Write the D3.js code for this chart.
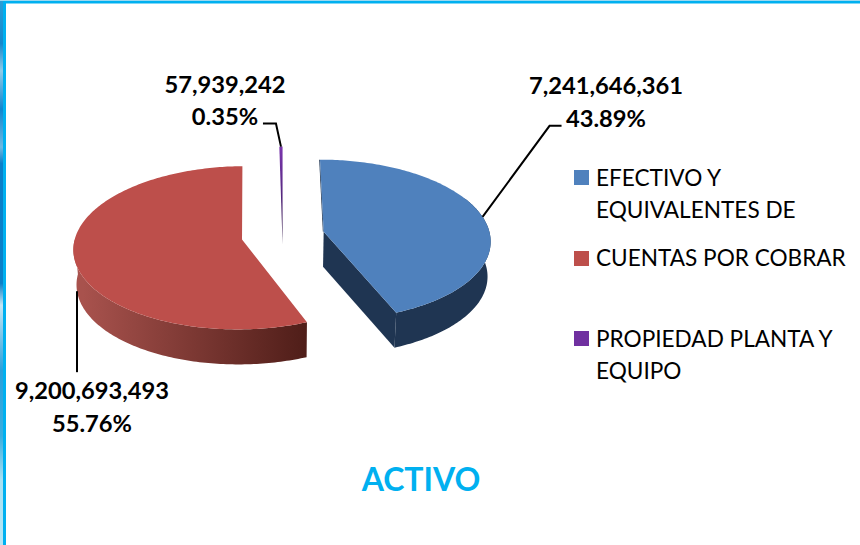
<!DOCTYPE html>
<html>
<head>
<meta charset="utf-8">
<script src="https://cdn.jsdelivr.net/npm/d3@7/dist/d3.min.js"></script>
<style>
html,body{margin:0;padding:0;background:#fff;overflow:hidden}
svg{display:block}
text{font-family:Lato,"Open Sans",sans-serif}
</style>
</head>
<body>
<div id="chart"></div>
<script>
const categories = ["EFECTIVO Y EQUIVALENTES DE", "CUENTAS POR COBRAR", "PROPIEDAD PLANTA Y EQUIPO"];
const values = [7241646361, 9200693493, 57939242];
const valueLabels = ["7,241,646,361", "9,200,693,493", "57,939,242"];
const percentLabels = ["43.89%", "55.76%", "0.35%"];
const legendLines = [["EFECTIVO Y", "EQUIVALENTES DE"], ["CUENTAS POR COBRAR"], ["PROPIEDAD PLANTA Y", "EQUIPO"]];
const topColors = ["#4f81bd", "#bd4f4b", "#7030a0"];
const chartTitle = "ACTIVO";

const W = 860, H = 545;
const svg = d3.select("#chart").append("svg").attr("width", W).attr("height", H);
const defs = svg.append("defs");

// frame
const strip = defs.append("linearGradient").attr("id", "strip").attr("x1", 0).attr("x2", 0).attr("y1", 0).attr("y2", 1);
[[0, "#2a9fd8"], [.08, "#1488cc"], [.13, "#8fcbe8"], [.2, "#0f86cf"], [.27, "#6db9e2"], [.3, "#0a7fc9"],
 [.52, "#0a80c8"], [.56, "#c5e6f4"], [.68, "#29a0db"], [.8, "#3aaedf"], [.88, "#a8e0f2"], [1, "#b5e6f5"]]
  .forEach(s => strip.append("stop").attr("offset", s[0]).attr("stop-color", s[1]));
svg.append("rect").attr("x", 0).attr("y", 0).attr("width", 3).attr("height", H).attr("fill", "url(#strip)");
svg.append("rect").attr("x", 0).attr("y", 0).attr("width", W).attr("height", 1).attr("fill", "#9ad8f0");
svg.append("rect").attr("x", 3).attr("y", 1).attr("width", W - 3).attr("height", 2.5).attr("fill", "#00b0f0");
svg.append("rect").attr("x", 3).attr("y", 1).attr("width", 3).attr("height", H).attr("fill", "#00b0f0");

// pie in perspective
const cx = 283, cy = 235.5, rx = 166.5, ry = 80, persp = 0.1, depth = 35, shrink = 0.015, explode = 0.25;
const sx = d3.scaleLinear().domain([-1, 1]).range([cx - rx, cx + rx]);
const sy = d3.scaleLinear().domain([-1, 1]).range([cy - ry, cy + ry]);
function project(X, Y, z) {
  const p = 1 - persp * Y, s = 1 - shrink * z;
  return [cx + (sx(X / p) - cx) * s, sy(Y / p) + depth * z];
}
const arcs = d3.pie().sort(null).value(d => d)(values);
const line = d3.line();
// visible part of each outer wall, as a share of the slice's sweep
const wallFrom = [0.4, 0, 1], wallTo = [1, 0.56, 1];
const pieces = arcs.map((a, i) => {
  const mid = (a.startAngle + a.endAngle) / 2;
  const ox = explode * Math.sin(mid), oy = -explode * Math.cos(mid);
  const rim = (t, r, z) => project(ox + r * Math.sin(t), oy - r * Math.cos(t), z);
  const n = Math.max(2, Math.ceil((a.endAngle - a.startAngle) * 60));
  const ts = d3.range(n + 1).map(k => a.startAngle + (a.endAngle - a.startAngle) * k / n);
  return {a, i, mid, ts, rim,
    wall: ts.filter((t, k) => k / n >= wallFrom[i] && k / n <= wallTo[i]),
    apex: z => rim(0, 0, z),
    top: [rim(0, 0, i === 2 ? 0.8 : 0), ...ts.map(t => rim(t, 1, 0))]};
});

const redWall = defs.append("linearGradient").attr("id", "wall1").attr("gradientUnits", "userSpaceOnUse")
  .attr("x1", sx(-1.2)).attr("x2", project(0.14, 1, 0)[0]).attr("y1", 0).attr("y2", 0);
redWall.append("stop").attr("offset", 0).attr("stop-color", "#a8524d");
redWall.append("stop").attr("offset", 1).attr("stop-color", "#4e1d18");
const purpleTop = defs.append("linearGradient").attr("id", "top2").attr("x1", 0).attr("x2", 0).attr("y1", 0).attr("y2", 1);
purpleTop.append("stop").attr("offset", 0).attr("stop-color", "#7a35ad");
purpleTop.append("stop").attr("offset", .45).attr("stop-color", "#5a2a85");
purpleTop.append("stop").attr("offset", 1).attr("stop-color", "#2c1540");

const wallFill = ["#1f3552", "url(#wall1)", "#2c1540"];
const g = svg.append("g");
pieces.forEach(p => {
  const w = g.append("g");
  if (p.wall.length > 1) {
    w.append("path").attr("fill", wallFill[p.i])
      .attr("d", line([...p.wall.map(t => p.rim(t, 1, 0)), ...p.wall.slice().reverse().map(t => p.rim(t, 1, 1))]) + "Z");
  }
  if (p.i === 0) {
    const last = p.ts[p.ts.length - 1], first = p.rim(p.ts[0], 1, 0), ap = p.apex(0);
    w.append("path").attr("fill", wallFill[0])
      .attr("d", line([ap, p.rim(last, 1, 0), p.rim(last, 1, 1), p.apex(1)]) + "Z");
    w.append("path").attr("fill", wallFill[0])
      .attr("d", line([ap, first, [first[0] - .8, first[1]], [ap[0] - .8, ap[1]]]) + "Z");
  }
  w.append("path").attr("fill", p.i === 2 ? "url(#top2)" : topColors[p.i]).attr("d", line(p.top) + "Z");
});

// leader lines
const elbows = [[[67, -91], [79, -91]], [[0, 81]], [[-5, -23], [-18, -23]]];
pieces.forEach((p, i) => {
  const start = p.rim(p.mid, 1, i === 1 ? 1 : 0);
  const pts = [start, ...elbows[i].map(e => [start[0] + e[0], start[1] + e[1]])];
  svg.append("path").attr("d", line(pts)).attr("fill", "none").attr("stroke", "#000").attr("stroke-width", 2);
});

// data labels
const labelSpots = [[606, 94, 127], [92, 398.5, 431.5], [225, 93, 125]];
labelSpots.forEach((s, i) => {
  [[valueLabels[i], s[1]], [percentLabels[i], s[2]]].forEach(t => {
    svg.append("text").attr("x", s[0]).attr("y", t[1]).attr("text-anchor", "middle")
      .attr("font-size", 23.7).attr("font-weight", 700).attr("fill", "#000").text(t[0]);
  });
});

// legend
const legendTop = [170, 251, 331];
const legendBase = [[186, 218], [266], [347, 379]];
categories.forEach((c, i) => {
  svg.append("rect").attr("x", 574).attr("y", legendTop[i]).attr("width", 15).attr("height", 15).attr("fill", topColors[i]);
  legendLines[i].forEach((l, k) => {
    svg.append("text").attr("x", 596).attr("y", legendBase[i][k]).attr("font-size", 22.6).attr("fill", "#000").text(l);
  });
});

svg.append("text").attr("x", 421).attr("y", 491).attr("text-anchor", "middle")
  .attr("font-size", 32).attr("font-weight", 700).attr("fill", "#00b0f0").text(chartTitle);
</script>
</body>
</html>
